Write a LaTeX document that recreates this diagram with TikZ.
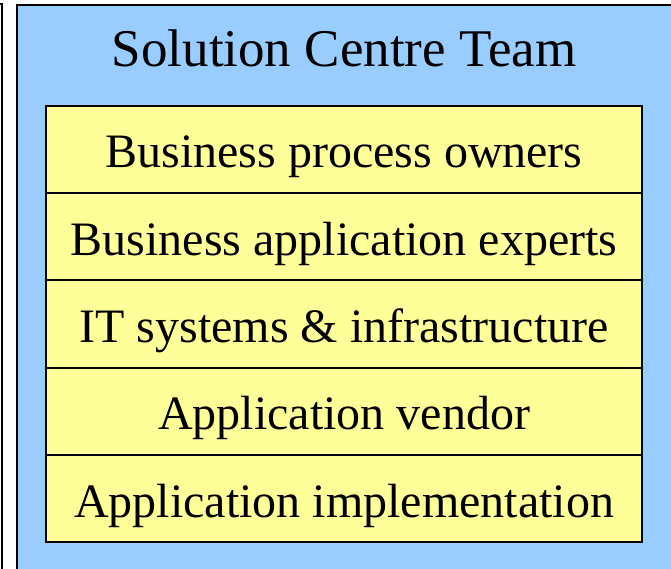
\documentclass[tikz,border=0pt]{standalone}
\usepackage{fontspec}
\setmainfont{Liberation Serif}
\definecolor{teamblue}{HTML}{99CCFF}
\definecolor{rowyellow}{HTML}{FFFF99}
\begin{document}
\begin{tikzpicture}[x=1pt,y=-1pt,
  rowbox/.style={draw=black, line width=1.6pt, fill=rowyellow, rectangle,
    minimum width=596pt, minimum height=87pt, inner sep=0pt,
    text height=37pt, text depth=0pt, font=\fontsize{48}{52}\selectfont},
  teambox/.style={draw=black, line width=1.6pt, fill=teamblue},
  titletext/.style={font=\fontsize{53}{58}\selectfont, anchor=base, inner sep=0pt}]
\useasboundingbox (0,0) rectangle (671,569);
\clip (0,0) rectangle (671,569);
\fill[white] (0,0) rectangle (671,569);
% neighbouring box edge at left
\draw[line width=1.6pt, fill=white] (-100,4) rectangle (2.2,700);
% team box
\draw[teambox] (16.8,4.8) rectangle (760,760);
\node[titletext] (title) at (344,67) {Solution Centre Team};
% rows
\node[rowbox] (r1) at (344,149.5) {Business process owners};
\node[rowbox] (r2) at (344,236.7) {Business application experts};
\node[rowbox] (r3) at (344,324.0) {IT systems \& infrastructure};
\node[rowbox] (r4) at (344,411.2) {Application vendor};
\node[rowbox] (r5) at (344,498.5) {Application implementation};
\end{tikzpicture}
\end{document}
